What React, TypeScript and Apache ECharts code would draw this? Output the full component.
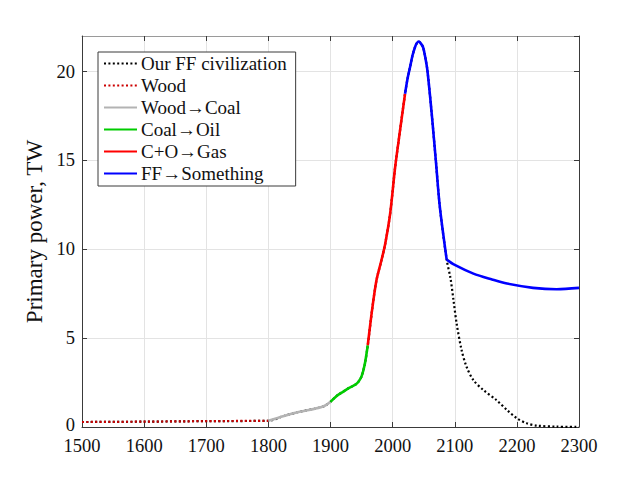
import React, { useEffect, useRef } from "react";
import * as echarts from "echarts";

const woodYears = [1500, 1600, 1700, 1800];
const woodValues = [0.28, 0.3, 0.33, 0.35];

const coalYears = [1800, 1825, 1850, 1875, 1890, 1900];
const coalValues = [0.35, 0.62, 0.86, 1.03, 1.18, 1.42];

const oilYears = [1900, 1910, 1920, 1930, 1940, 1945, 1950, 1955, 1960];
const oilValues = [1.42, 1.75, 1.98, 2.2, 2.38, 2.55, 2.85, 3.5, 4.6];

const gasYears = [1960, 1967, 1974, 1982, 1988, 1996, 2004, 2012, 2020];
const gasValues = [4.6, 6.6, 8.26, 9.38, 10.3, 12.0, 14.6, 16.7, 18.75];

const peakYears = [2020, 2024, 2028, 2032, 2036, 2039, 2042, 2045, 2049, 2052, 2056, 2063, 2070, 2076, 2087];
const peakValues = [18.75, 19.6, 20.24, 20.9, 21.37, 21.6, 21.69, 21.6, 21.37, 20.9, 20.06, 17.6, 14.8, 12.38, 9.42];

const afterYears = [2087, 2100, 2130, 2160, 2184, 2226, 2264, 2300];
const afterValues = [9.42, 9.12, 8.63, 8.3, 8.07, 7.83, 7.75, 7.83];

const declineYears = [2087, 2093, 2098, 2103, 2111, 2119, 2130, 2146, 2167, 2184, 2200, 2216, 2232, 2264, 2300];
const declineValues = [9.42, 8.4, 7.13, 5.83, 4.33, 3.39, 2.64, 2.08, 1.52, 0.96, 0.49, 0.21, 0.08, 0.02, 0.0];

const xTicks = { min: 1500, max: 2300, step: 100 };
const yTicks = { min: 0, max: 22, step: 5 };

const names = [
  "Our FF civilization",
  "Wood",
  "Wood\u2192Coal",
  "Coal\u2192Oil",
  "C+O\u2192Gas",
  "FF\u2192Something",
];

const pairs = (xs: number[], ys: number[]) => xs.map((x, i) => [x, ys[i]]);

const FONT = "Liberation Serif";

export default function App() {
  const ref = useRef<HTMLDivElement>(null);
  useEffect(() => {
    if (!ref.current) return;
    const chart = echarts.init(ref.current, null, { renderer: "svg" });

    const fullYears = [
      ...woodYears,
      ...coalYears.slice(1),
      ...oilYears.slice(1),
      ...gasYears.slice(1),
      ...peakYears.slice(1),
      ...declineYears.slice(1),
    ];
    const fullValues = [
      ...woodValues,
      ...coalValues.slice(1),
      ...oilValues.slice(1),
      ...gasValues.slice(1),
      ...peakValues.slice(1),
      ...declineValues.slice(1),
    ];

    const frame = "#3a3a3a";
    const gridC = "#e3e3e3";
    const baseAxis = {
      type: "value" as const,
      splitLine: { show: false },
      axisLine: { show: true, onZero: false, lineStyle: { color: frame, width: 1 } },
      axisTick: { show: true, inside: true, length: 5, lineStyle: { color: frame } },
    };

    const solid = (name: string, data: number[][], color: string) => ({
      name,
      type: "line",
      data,
      smooth: 0.3,
      showSymbol: false,
      symbol: "none",
      lineStyle: { color, width: 2.6 },
      itemStyle: { color },
      z: 3,
    });

    chart.setOption({
      animation: false,
      grid: { left: 82, right: 61, top: 36, bottom: 53, containLabel: false },
      legend: {
        orient: "vertical",
        left: 98,
        top: 52,
        data: names,
        backgroundColor: "#ffffff",
        borderColor: "#3a3a3a",
        borderWidth: 1,
        borderRadius: 0,
        padding: [2, 9, 3, 5],
        itemGap: 3,
        itemWidth: 33,
        itemHeight: 18,
        itemStyle: { opacity: 0, borderWidth: 0 },
        textStyle: {
          fontFamily: FONT,
          fontSize: 19,
          color: "#111",
          padding: [0, 0, 0, -1],
        },
      },
      xAxis: [
        {
          ...baseAxis,
          position: "bottom",
          min: xTicks.min,
          max: xTicks.max,
          interval: xTicks.step,
          splitLine: { show: true, lineStyle: { color: gridC, width: 1 } },
          axisLabel: {
            fontFamily: FONT,
            fontSize: 18.5,
            lineHeight: 14,
            color: "#111",
            margin: 12,
            formatter: (v: number) => String(v),
          },
        },
        {
          ...baseAxis,
          position: "top",
          min: xTicks.min,
          max: xTicks.max,
          interval: xTicks.step,
          axisLabel: { show: false },
          axisLine: { show: true, onZero: false, lineStyle: { color: "#9a9a9a", width: 1 } },
        },
      ],
      yAxis: [
        {
          ...baseAxis,
          position: "left",
          min: yTicks.min,
          max: yTicks.max,
          interval: yTicks.step,
          splitLine: { show: true, lineStyle: { color: gridC, width: 1 } },
          axisLabel: {
            fontFamily: FONT,
            fontSize: 18.5,
            lineHeight: 14,
            color: "#111",
            margin: 7,
            showMaxLabel: false,
            formatter: (v: number) => (v === 0 ? "{z|0}" : String(v)),
            rich: {
              z: {
                fontFamily: FONT,
                fontSize: 18.5,
                lineHeight: 14,
                color: "#111",
                padding: [0, 0, 5, 0],
              },
            },
          },
          name: "Primary power, TW",
          nameLocation: "middle",
          nameGap: 33,
          nameTextStyle: { fontFamily: FONT, fontSize: 23, color: "#111" },
        },
        {
          ...baseAxis,
          position: "right",
          min: yTicks.min,
          max: yTicks.max,
          interval: yTicks.step,
          axisLabel: { show: false },
        },
      ],
      series: [
        {
          name: names[0],
          type: "line",
          data: pairs(fullYears, fullValues),
          smooth: 0.3,
          showSymbol: false,
          symbol: "none",
          lineStyle: { color: "#000000", width: 2.2, type: [2, 2.4] },
          itemStyle: { color: "#000000" },
          z: 2,
        },
        {
          name: names[1],
          type: "line",
          data: pairs(woodYears, woodValues),
          showSymbol: false,
          symbol: "none",
          lineStyle: { color: "#cc0000", width: 2.2, type: [2, 2.4] },
          itemStyle: { color: "#cc0000" },
          z: 3,
        },
        solid(names[2], pairs(coalYears, coalValues), "#b3b3b3"),
        solid(names[3], pairs(oilYears, oilValues), "#00cc00"),
        solid(names[4], pairs(gasYears, gasValues), "#ff0000"),
        solid(names[5], pairs(peakYears, peakValues), "#0000ff"),
        solid(names[5], pairs(afterYears, afterValues), "#0000ff"),
      ],
    });
    return () => chart.dispose();
  }, []);
  return (
    <div
      ref={ref}
      style={{ position: "fixed", left: 0, top: 0, width: 640, height: 480, background: "#fff" }}
    />
  );
}
